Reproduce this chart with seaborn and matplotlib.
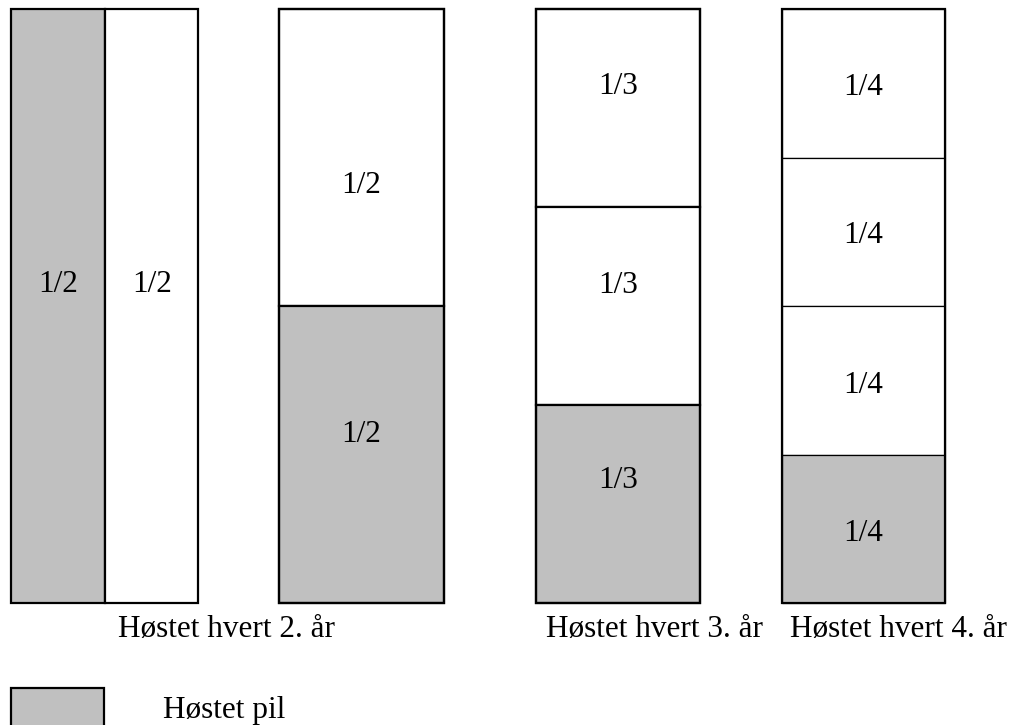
import matplotlib
matplotlib.use("Agg")
import matplotlib.pyplot as plt
import seaborn as sns

# ---- data ----
group_labels = ["Høstet hvert 2. år", "Høstet hvert 3. år", "Høstet hvert 4. år"]
col1_fracs = [0.5, 0.5]            # side-by-side halves (left harvested)
col1_text = ["1/2", "1/2"]
col2_fracs = [0.5, 0.5]            # top -> bottom, bottom harvested
col2_text = ["1/2", "1/2"]
col3_fracs = [1/3, 1/3, 1/3]
col3_text = ["1/3", "1/3", "1/3"]
col4_fracs = [0.25, 0.25, 0.25, 0.25]
col4_text = ["1/4", "1/4", "1/4", "1/4"]
legend_label = "Høstet pil"

GRAY = "#C0C0C0"

sns.set_theme(style="white")
plt.rcParams["font.family"] = ["Liberation Serif", "DejaVu Serif"]
plt.rcParams["text.color"] = "black"

W, H = 1014, 725
fig = plt.figure(figsize=(W / 100, H / 100), dpi=100)
ax = fig.add_axes([0, 0, 1, 1])
ax.set_xlim(0, W)
ax.set_ylim(H, 0)
ax.axis("off")

TOP, BOT = 9, 603
COLH = BOT - TOP
FS = 22.5

# column 1: vertical split
c1_left, c1_w = 11, 187
x = c1_left
for i, (f, t) in enumerate(zip(col1_fracs, col1_text)):
    w = c1_w * f
    ax.bar(x, COLH, width=w, bottom=TOP, align="edge",
           color=GRAY if i == 0 else "white", edgecolor="black", linewidth=1.6)
    ax.text(x + w / 2 + 0.5, 292, t, ha="center", va="baseline", fontsize=FS, color="black")
    x += w

# stacked columns
stacked = [
    (279, 165, col2_fracs, col2_text, [193, 442], 1.6),
    (536, 164, col3_fracs, col3_text, [94, 293, 488], 1.6),
    (782, 163, col4_fracs, col4_text, [95, 243, 393, 541], 0.9),
]
for left, width, fracs, texts, baselines, dlw in stacked:
    y = TOP
    n = len(fracs)
    for i, (f, t, bl) in enumerate(zip(fracs, texts, baselines)):
        h = COLH * f
        ax.bar(left, h, width=width, bottom=y, align="edge",
               color=GRAY if i == n - 1 else "white", edgecolor="black", linewidth=dlw)
        ax.text(left + width / 2, bl, t, ha="center", va="baseline", fontsize=FS, color="black")
        y += h
    # outer border
    ax.bar(left, COLH, width=width, bottom=TOP, align="edge",
           color="none", edgecolor="black", linewidth=1.6)

# group labels
label_x = [226.5, 654, 898]
for lx, lab in zip(label_x, group_labels):
    ax.text(lx, 637, lab, ha="center", va="baseline", fontsize=FS, color="black")

# legend
ax.bar(11, 60, width=93, bottom=688, align="edge", color=GRAY,
       edgecolor="black", linewidth=1.6, clip_on=True)
ax.text(163, 718, legend_label, ha="left", va="baseline", fontsize=FS, color="black")

fig.savefig("out.png", dpi=100)
